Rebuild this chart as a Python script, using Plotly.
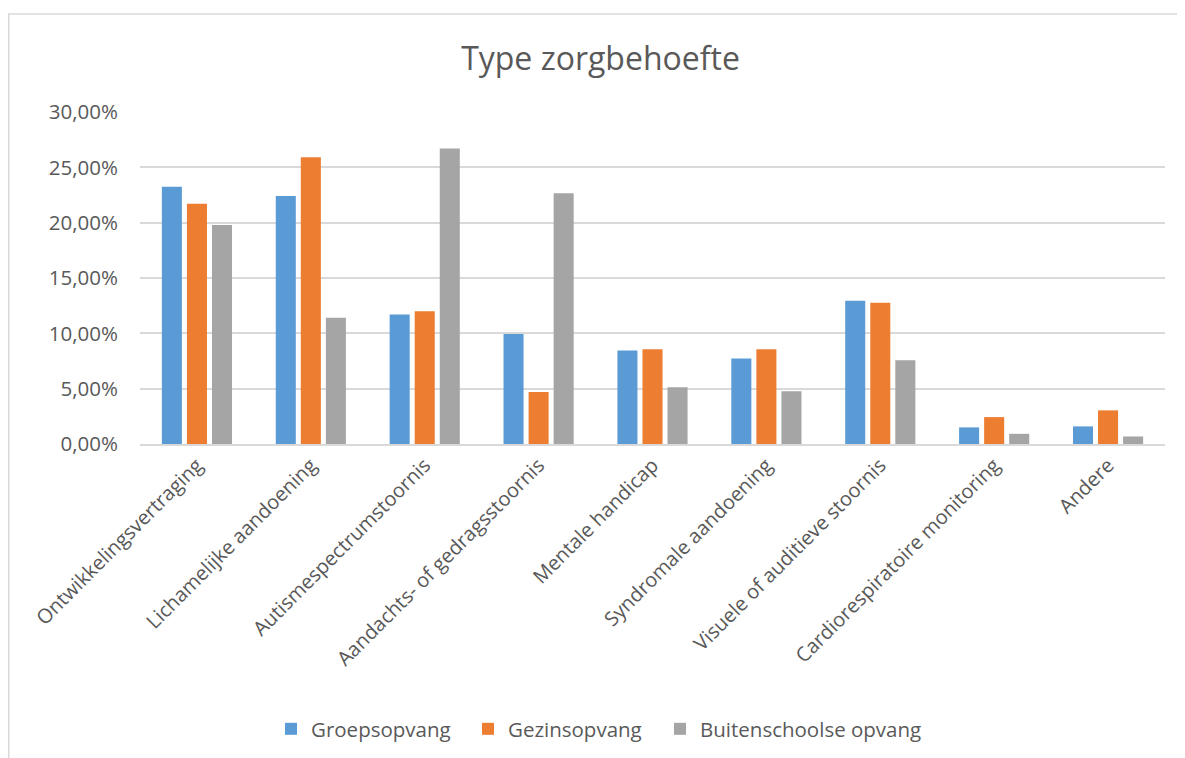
import plotly.graph_objects as go

categories = [
    "Ontwikkelingsvertraging",
    "Lichamelijke aandoening",
    "Autismespectrumstoornis",
    "Aandachts- of gedragsstoornis",
    "Mentale handicap",
    "Syndromale aandoening",
    "Visuele of auditieve stoornis",
    "Cardiorespiratoire monitoring",
    "Andere",
]
groepsopvang = [0.2325, 0.2240, 0.1170, 0.0995, 0.0845, 0.0772, 0.1295, 0.0150, 0.0159]
gezinsopvang = [0.2170, 0.2590, 0.1200, 0.0470, 0.0857, 0.0857, 0.1277, 0.0243, 0.0304]
buitenschoolse = [0.1980, 0.1140, 0.2670, 0.2265, 0.0512, 0.0476, 0.0757, 0.0092, 0.0068]

series_names = ["Groepsopvang", "Gezinsopvang", "Buitenschoolse opvang"]
colors = ["#5B9BD5", "#ED7D31", "#A5A5A5"]
y_ticks = [0, 0.05, 0.10, 0.15, 0.20, 0.25, 0.30]

W, H = 1185, 758
ml, mr, mt, mb = 132, 28, 104, 322
pw, ph = W - ml - mr, H - mt - mb

legend_ids = ["legend", "legend2", "legend3"]
legend_left_px = [263, 460, 652]

fig = go.Figure()
for name, vals, col, lid in zip(series_names, [groepsopvang, gezinsopvang, buitenschoolse], colors, legend_ids):
    fig.add_trace(go.Bar(
        x=categories, y=vals, name=name, legend=lid, showlegend=True,
        marker=dict(color=col, line=dict(width=0)),
        hovertemplate="%{x}: %{y:.2%}<extra>" + name + "</extra>",
    ))

legend_y = -(721 - (H - mb)) / ph
legend_layout = {}
for lid, lx in zip(legend_ids, legend_left_px):
    legend_layout[lid] = dict(orientation="h", x=(lx - ml) / pw, xanchor="left",
                              y=legend_y, yanchor="middle", bgcolor="rgba(0,0,0,0)",
                              font=dict(size=20.5, color="#595959"), itemwidth=30)

fig.update_layout(
    width=W, height=H,
    showlegend=True,
    margin=dict(l=ml, r=mr, t=mt, b=mb),
    paper_bgcolor="white", plot_bgcolor="white",
    separators=",.",
    barmode="group", bargap=0.34, bargroupgap=0.2,
    font=dict(family="Open Sans", color="#595959", size=20),
    title=dict(text="Type zorgbehoefte", x=0.5, xanchor="center", y=1 - 51 / H, yanchor="middle",
               font=dict(size=32, color="#595959", family="Open Sans")),
    yaxis=dict(range=[0, 0.30], tickvals=y_ticks, tickformat=".2%", showgrid=True,
               gridcolor="#d9d9d9", gridwidth=1.5, zeroline=False, showline=False, ticks="",
               ticklabelstandoff=21, tickfont=dict(size=20.5, color="#595959")),
    xaxis=dict(tickangle=-45, showline=True, linecolor="#d9d9d9", linewidth=1.5, ticks="",
               tickfont=dict(size=20, color="#595959"), showgrid=False),
    shapes=[dict(type="rect", xref="paper", yref="paper",
                 x0=(0.75 - ml) / pw, x1=(W + 5 - ml) / pw,
                 y0=-(H + 5 - (H - mb)) / ph, y1=((H - mb) - 6) / ph,
                 line=dict(color="#d9d9d9", width=1.5), fillcolor="rgba(0,0,0,0)", layer="below")],
    **legend_layout,
)

fig.write_html("out.html")
